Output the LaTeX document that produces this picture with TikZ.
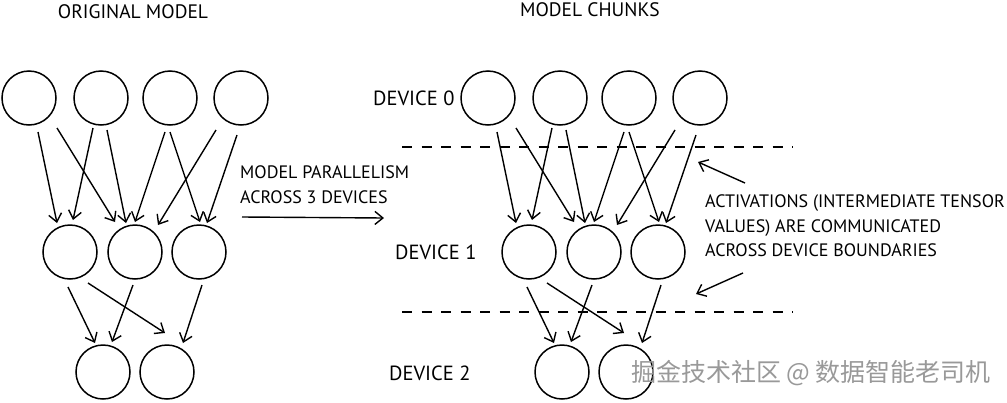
\documentclass[tikz,border=0pt]{standalone}
\usepackage{fontspec}
\setmainfont{PT Sans}
\newfontfamily\cjkfont{Noto Sans CJK SC}
\usetikzlibrary{arrows.meta,calc}

\begin{document}
\begin{tikzpicture}[
  x=1pt, y=-1pt, >={Straight Barb[length=8pt,width=13pt]},
  neuron/.style={circle,draw=black,line width=1.5pt,minimum size=54pt,inner sep=0pt},
  arr/.style={->,draw=black,line width=1.4pt},
  bound/.style={draw=black,line width=1.3pt,dash pattern=on 10pt off 9.5pt},
  lbl/.style={font=\fontsize{20.5}{24}\selectfont,inner sep=0pt},
  title/.style={font=\fontsize{19.5}{22}\selectfont,inner sep=0pt},
  note/.style={font=\fontsize{18}{24.5}\selectfont,align=left,inner sep=0pt}]
\useasboundingbox (0,0) rectangle (1007,402);
% the same network twice: original model (L) and model chunks (R)
\foreach \p/\dx in {L/0,R/459}{
  \foreach \n/\x in {t1/29,t2/101,t3/170,t4/241} \node[neuron] (\p\n) at (\dx+\x,98) {};
  \foreach \n/\x in {m1/70,m2/135,m3/199} \node[neuron] (\p\n) at (\dx+\x,252) {};
  \foreach \n/\x in {b1/103,b2/167} \node[neuron] (\p\n) at (\dx+\x,372) {};
  \foreach \a/\sx/\sy/\b/\ex/\ey in {
    t1/9/34/m1/-13/-29, t1/28/30/m2/-20/-30, t2/-8/30/m1/3/-32, t2/6/32/m2/-9/-29,
    t3/-5/34/m2/0/-30, t3/0/34/m3/1/-30, t4/-25/32/m2/23/-27, t4/-4/37/m3/8/-29,
    m1/-2/35/b1/-8/-29, m1/18/31/b2/-2/-39, m2/-2/33/b1/9/-30, m3/3/33/b2/16/-29}
    \draw[arr] ($(\p\a)+(\sx,\sy)$) -- ($(\p\b)+(\ex,\ey)$);
}
\node[title] (orig) at (133,12) {ORIGINAL MODEL};
\node[title] (chunks) at (590,10) {MODEL CHUNKS};
\node[lbl,anchor=west] (dev0) at (373,98) {DEVICE 0};
\node[lbl,anchor=west] (dev1) at (395,252) {DEVICE 1};
\node[lbl,anchor=west] (dev2) at (389,373) {DEVICE 2};
% device boundaries
\draw[bound] (402,147) -- (793,147);
\draw[bound] (402,312) -- (793,312);
% model parallelism
\node[note,anchor=west] (par) at (240,184.5) {MODEL PARALLELISM\\ACROSS 3 DEVICES};
\coordinate (pa) at (242,217);
\coordinate (pb) at (384,218);
\draw[arr] (pa) -- (pb);
% activations note
\node[note,anchor=west] (act) at (705,226) {ACTIVATIONS (INTERMEDIATE TENSOR\\VALUES) ARE COMMUNICATED\\ACROSS DEVICE BOUNDARIES};
\coordinate (u0) at (745,183);
\coordinate (u1) at (698,162);
\coordinate (d0) at (743,273);
\coordinate (d1) at (696,294);
\draw[arr] (u0) -- (u1);
\draw[arr] (d0) -- (d1);
\node[font=\cjkfont\fontsize{25}{25}\selectfont,text=black!40] (wm) at (811,373) {掘金技术社区 @ 数据智能老司机};
\end{tikzpicture}
\end{document}
